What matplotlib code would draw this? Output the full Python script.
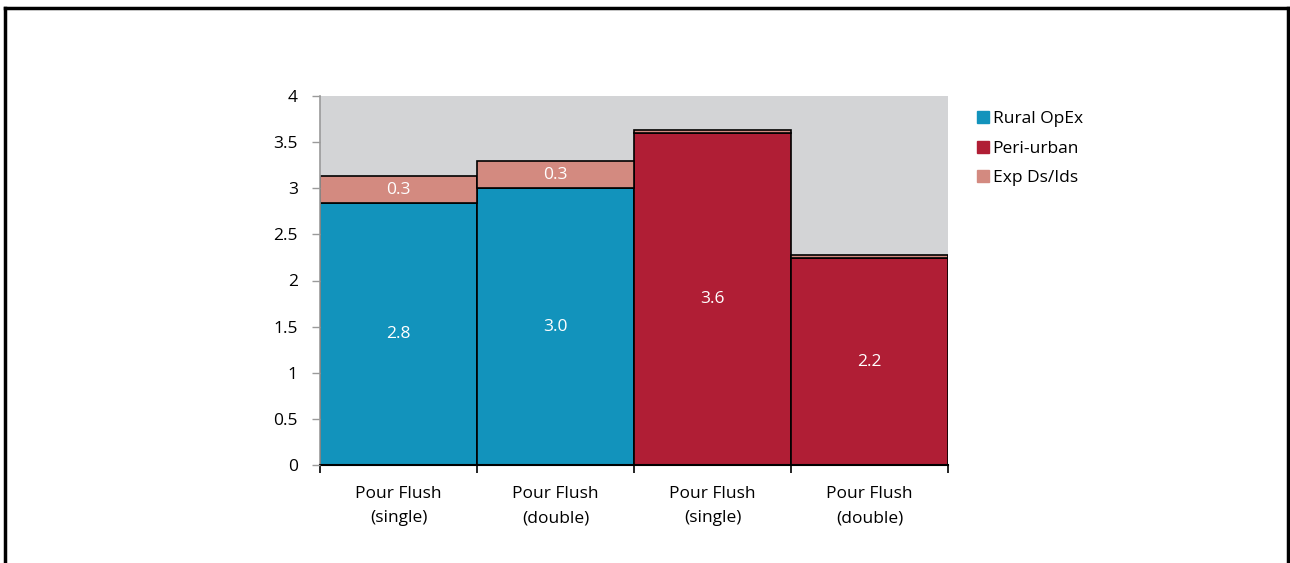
import matplotlib
matplotlib.use("Agg")
import matplotlib.pyplot as plt
from matplotlib.lines import Line2D
import numpy as np

# Cost per category (stacked)
categories = ["Pour Flush\n(single)", "Pour Flush\n(double)", "Pour Flush\n(single)", "Pour Flush\n(double)"]
rural_opex = [2.84, 3.00, 0.0, 0.0]
peri_urban = [0.0, 0.0, 3.60, 2.24]
exp_ds_ids = [0.29, 0.29, 0.035, 0.035]

series_names = ["Rural OpEx", "Peri-urban", "Exp Ds/Ids"]
colors = ["#1293BC", "#B01E35", "#D38A80"]
y_ticks = [0, 0.5, 1, 1.5, 2, 2.5, 3, 3.5, 4]
y_tick_labels = ["0", "0.5", "1", "1.5", "2", "2.5", "3", "3.5", "4"]

plt.rcParams["font.family"] = ["Open Sans", "DejaVu Sans"]
FS = 12.5

fig = plt.figure(figsize=(12.9, 5.63), dpi=100)
ax = fig.add_axes([320 / 1290, 1 - 465 / 563, 628 / 1290, 369 / 563])
ax.set_facecolor("#D3D4D6")

x = np.arange(len(categories))
rural = np.array(rural_opex)
peri = np.array(peri_urban)
exp = np.array(exp_ds_ids)

kw = dict(width=1.0, edgecolor="black", linewidth=1.2, align="center")
mask_r = rural > 0
mask_p = peri > 0
ax.bar(x[mask_r], rural[mask_r], color=colors[0], label=series_names[0], **kw)
ax.bar(x[mask_p], peri[mask_p], color=colors[1], label=series_names[1], **kw)
base = rural + peri
ax.bar(x, exp, bottom=base, color=colors[2], label=series_names[2], **kw)

# value labels inside segments
for xi, v in zip(x, rural):
    if v > 0:
        ax.text(xi, v / 2, f"{v:.1f}", ha="center", va="center", color="white", fontsize=FS)
for xi, v in zip(x, peri):
    if v > 0:
        ax.text(xi, v / 2, f"{v:.1f}", ha="center", va="center", color="white", fontsize=FS)
for xi, b, v in zip(x, base, exp):
    if v >= 0.1:
        ax.text(xi, b + v / 2, f"{v:.1f}", ha="center", va="center", color="white", fontsize=FS)

ax.set_xlim(-0.5, len(categories) - 0.5)
ax.set_ylim(0, 4)
ax.set_yticks(y_ticks)
ax.set_yticklabels(y_tick_labels, fontsize=FS)
ax.set_xticks(x)
ax.set_xticklabels(categories, fontsize=FS, linespacing=1.7)
ax.set_xticks(np.arange(len(categories) + 1) - 0.5, minor=True)
ax.tick_params(axis="x", which="major", length=0, pad=15)
ax.tick_params(axis="x", which="minor", length=6, width=1.2, color="black", direction="out")
ax.tick_params(axis="y", length=6, width=1, color="#9A9A9A", pad=10)

for s in ["top", "right"]:
    ax.spines[s].set_visible(False)
ax.spines["left"].set_color("#9A9A9A")
ax.spines["left"].set_linewidth(1.2)
ax.spines["bottom"].set_color("black")
ax.spines["bottom"].set_linewidth(1.5)
ax.set_axisbelow(False)

handles = [plt.Rectangle((0, 0), 1, 1, color=c) for c in colors]
fig.legend(handles, series_names, loc="upper left", bbox_to_anchor=(970 / 1290, 1 - 104 / 563),
           frameon=False, fontsize=FS, handlelength=0.7, handleheight=0.7,
           handletextpad=0.2, labelspacing=0.78, borderaxespad=0)

# outer frame (left, top, right)
lw = 2.5
fig.add_artist(Line2D([5 / 1290, 5 / 1290], [0, 1 - 8 / 563], color="black", linewidth=lw, transform=fig.transFigure))
fig.add_artist(Line2D([5 / 1290, 1288 / 1290], [1 - 8 / 563, 1 - 8 / 563], color="black", linewidth=lw, transform=fig.transFigure))
fig.add_artist(Line2D([1288 / 1290, 1288 / 1290], [0, 1 - 8 / 563], color="black", linewidth=lw, transform=fig.transFigure))

fig.savefig("out.png", dpi=100, facecolor="white")
